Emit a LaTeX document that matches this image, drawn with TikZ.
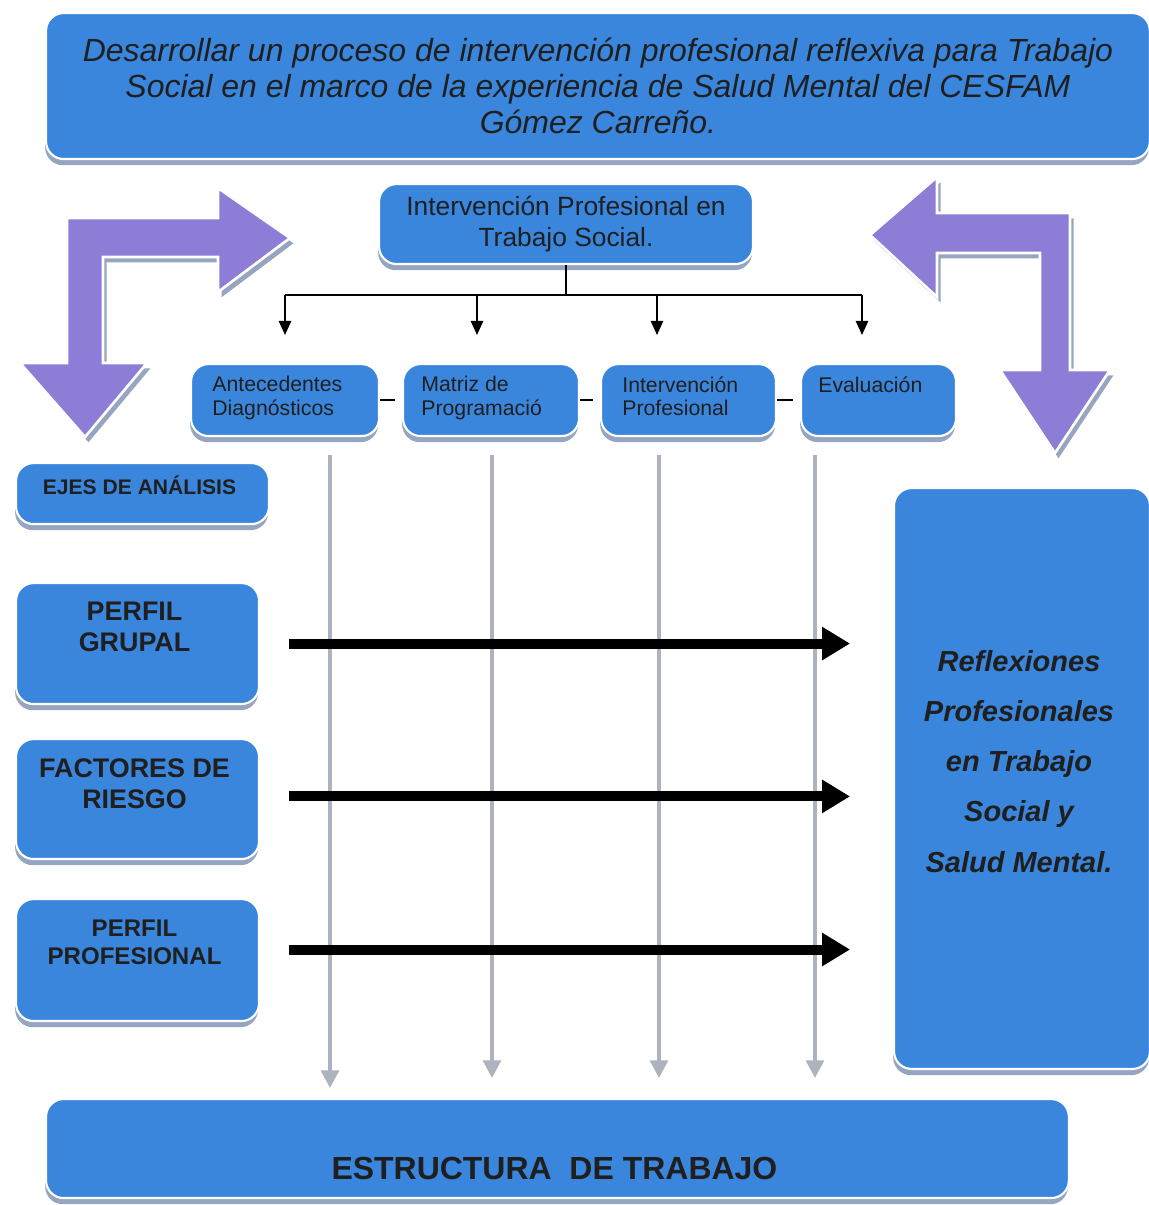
\documentclass[tikz,border=0pt]{standalone}
\usepackage{fontspec}
\setmainfont{Liberation Sans}
\usepackage{tikz}
\usetikzlibrary{arrows.meta,shadows,calc,positioning}
\definecolor{boxblue}{RGB}{58,134,221}
\definecolor{boxshade}{RGB}{150,166,192}
\definecolor{lila}{RGB}{141,125,214}
\definecolor{railgray}{RGB}{172,178,190}
\tikzstyle{box}   =[rectangle, rounded corners=10pt, fill=boxblue,
                    draw=white, line width=1.2pt, anchor=north west,
                    inner sep=0pt, text=black!88,
                    drop shadow={shadow xshift=-0.5pt, shadow yshift=-3.5pt,
                                 fill=boxshade, opacity=1}]
\tikzstyle{txt}   =[align=center, inner sep=0pt, text=black!88]
\tikzstyle{conn}  =[line width=1pt, -{Triangle[width=7pt,length=8pt]}]
\tikzstyle{railarrow}=[draw=railgray, line width=2.2pt,
                    -{Triangle[width=10pt,length=10pt]}]
\tikzstyle{flowarrow}=[line width=5.7pt, -{Triangle[width=18pt,length=16pt]}]
\tikzstyle{lilaarrow}=[fill=lila, draw=white, line width=1.5pt,
                    line join=miter,
                    preaction={fill=boxshade,
                               transform canvas={xshift=2pt,yshift=-3pt}}]

\begin{document}
\begin{tikzpicture}[x=0.02cm, y=-0.02cm]
    \useasboundingbox (0,0) rectangle (1149,1205);

    % bent arrows
    \draw[lilaarrow] (67,218) -- (218,218) -- (218,188) -- (290,238)
        -- (218,292) -- (218,257) -- (103,257) -- (103,363) -- (147,363)
        -- (85,437) -- (20,363) -- (67,363) -- cycle;
    \draw[lilaarrow] (1070,213) -- (937,213) -- (937,177) -- (870,235)
        -- (937,297) -- (937,253) -- (1040,253) -- (1040,370) -- (1000,370)
        -- (1055,453) -- (1110,370) -- (1070,370) -- cycle;

    \node[box, minimum width=22.08cm, minimum height=2.92cm, align=center,
          font=\fontsize{18.2}{20.5}\selectfont\itshape] (titulo) at (45,12)
        {Desarrollar un proceso de intervención profesional reflexiva para Trabajo\\
         Social en el marco de la experiencia de Salud Mental del CESFAM\\
         Gómez Carreño.};

    \node[box, minimum width=7.48cm, minimum height=1.6cm, align=center,
          font=\fontsize{15}{17.5}\selectfont] (interv) at (378,183)
        {Intervención Profesional en\\Trabajo Social.};

    % phases
    \node[box, minimum width=3.76cm, minimum height=1.44cm] (ant) at (190,363) {};
    \node[box, minimum width=3.52cm, minimum height=1.44cm] (mat) at (402,363) {};
    \node[box, minimum width=3.5cm,  minimum height=1.44cm] (intp) at (600,363) {};
    \node[box, minimum width=3.1cm,  minimum height=1.44cm] (eva) at (800,363) {};
    \foreach \n/\dx/\t in {ant/22/{Antecedentes\\Diagnósticos},
                           mat/19/{Matriz de\\Programació},
                           intp/22/{Intervención\\Profesional},
                           eva/18/{Evaluación}}
        \node[txt, align=left, anchor=north west,
              font=\fontsize{12.1}{13.6}\selectfont] (\n t)
            at ($(\n.north west)+(\dx,13)$) {\t};

    \draw[line width=1pt, shorten >=4pt] (ant.east) -- (mat.west);
    \draw[line width=1pt, shorten >=4pt] (mat.east) -- (intp.west);
    \draw[line width=1pt, shorten >=4pt] (intp.east) -- (eva.west);

    % bus
    \foreach \i/\x in {1/285, 2/477, 3/657, 4/862}{
        \coordinate (b\i) at (\x,295);
        \coordinate (a\i) at (\x,335);
        \draw[conn] (b\i) -- (a\i);
    }
    \draw[line width=1pt] (b1) -- (b4);
    \draw[line width=1pt] (interv.south) -- (interv.south |- b1);

    % axes
    \node[box, minimum width=5.06cm, minimum height=1.22cm] (ejes) at (15,462) {};
    \node[txt, font=\fontsize{12}{14}\selectfont\bfseries] (ejest)
        at ($(ejes.center)+(-3,-8)$) {EJES DE ANÁLISIS};

    \node[box, minimum width=4.86cm, minimum height=2.42cm] (grupal) at (15,582) {};
    \node[txt, font=\fontsize{15.3}{17.5}\selectfont\bfseries] (grupalt)
        at ($(grupal.center)+(-3,-17)$) {PERFIL\\GRUPAL};

    \node[box, minimum width=4.86cm, minimum height=2.4cm] (factores) at (15,738) {};
    \node[txt, font=\fontsize{15.3}{17.5}\selectfont\bfseries] (factorest)
        at ($(factores.center)+(-3,-15)$) {FACTORES DE\\RIESGO};

    \node[box, minimum width=4.86cm, minimum height=2.44cm] (profesional) at (15,898) {};
    \node[txt, font=\fontsize{13.7}{16}\selectfont\bfseries] (profesionalt)
        at ($(profesional.center)+(-3,-18)$) {PERFIL\\PROFESIONAL};

    \node[box, minimum width=5.12cm, minimum height=11.62cm] (reflex) at (893,487) {};
    \node[txt, font=\fontsize{16.5}{28.5}\selectfont\bfseries\itshape] (reflext)
        at ($(reflex.center)+(-3,-17)$)
        {Reflexiones\\Profesionales\\en Trabajo\\Social y\\Salud Mental.};

    \node[box, minimum width=20.46cm, minimum height=1.98cm] (estr) at (45,1098) {};
    \node[txt, font=\fontsize{18.2}{20}\selectfont\bfseries] (estrt)
        at ($(estr.center)+(-3,20)$) {ESTRUCTURA\ \ DE TRABAJO};

    % rails down to the structure
    \foreach \i/\x/\y in {1/330/1088, 2/492/1078, 3/659/1078, 4/815/1078}{
        \coordinate (r\i) at (\x,455);
        \coordinate (s\i) at (\x,\y);
        \draw[railarrow] (r\i) -- (s\i);
    }

    % axes into reflections
    \draw[flowarrow, shorten <=16.4pt, shorten >=24.4pt]
        (grupal) -- (grupal -| reflex.west);
    \draw[flowarrow, shorten <=16.4pt, shorten >=24.4pt]
        ([yshift=1.5pt]factores.east) -- ([yshift=1.5pt]factores.east -| reflex.west);
    \draw[flowarrow, shorten <=16.4pt, shorten >=24.4pt]
        ([yshift=6pt]profesional.east) -- ([yshift=6pt]profesional.east -| reflex.west);
\end{tikzpicture}
\end{document}
